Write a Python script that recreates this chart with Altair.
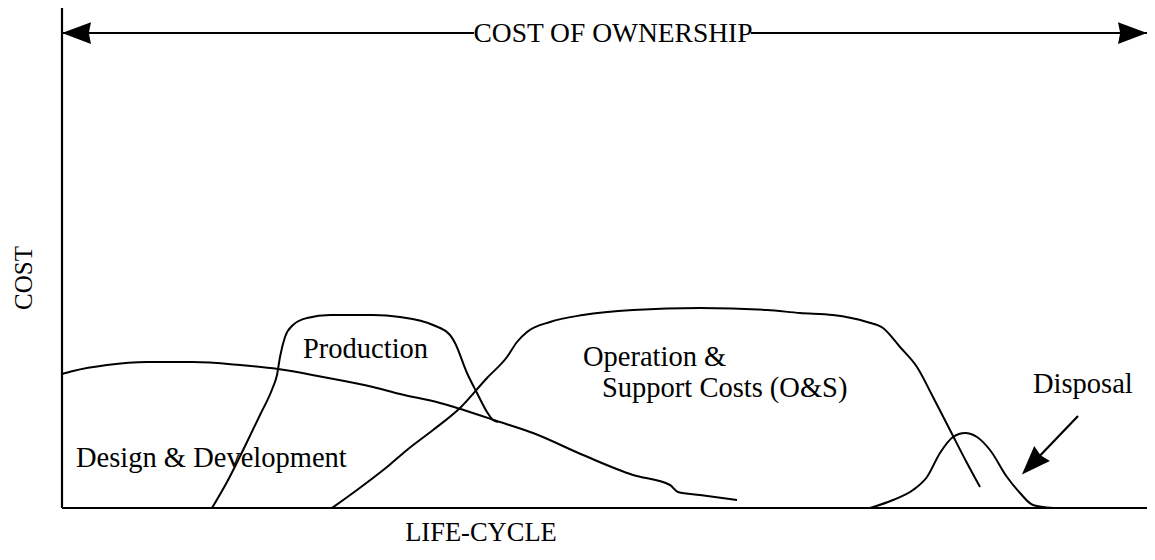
import altair as alt
import pandas as pd

# Values (x: life-cycle position, y: cost; arbitrary units)
dd_x = [0, 11, 45, 85, 131, 178, 216, 261, 311, 338, 378, 395, 438, 471, 521, 571, 608, 616, 638, 675]
dd_y = [134, 137, 143, 146, 146, 143, 139, 131, 121, 114, 105, 100, 86, 75, 53, 33, 23, 16, 13, 8]

prod_x = [150, 165, 185, 198, 211, 215, 218, 223, 231, 245, 268, 311, 338, 371, 388, 393, 405, 415, 425, 431, 436]
prod_y = [0, 26, 66, 93, 121, 133, 151, 171, 183, 190, 193, 193, 191, 183, 173, 165, 135, 115, 96, 88, 86]

os_x = [270, 295, 325, 345, 371, 398, 425, 445, 455, 465, 488, 521, 571, 638, 705, 738, 771, 805, 821, 838, 855, 871, 888, 905, 918]
os_y = [0, 18, 41, 58, 78, 100, 130, 151, 166, 176, 186, 193, 198, 200, 198, 195, 193, 186, 180, 161, 141, 111, 78, 45, 21]

disp_x = [808, 831, 851, 865, 878, 891, 903, 915, 928, 945, 958, 971, 991]
disp_y = [0, 8, 18, 31, 55, 71, 75, 71, 58, 31, 15, 3, 0]

label_texts = ["Production", "Design & Development", "Operation &", "Support Costs (O&S)", "Disposal"]
label_x = [241, 14, 521, 540, 971]
label_y = [150, 41, 142, 111, 115]

title_text = "COST OF OWNERSHIP"
x_title = "LIFE-CYCLE"
y_title = "COST"

FONT = "Liberation Serif"
XMAX = 1085
XS = alt.Scale(domain=[0, XMAX], nice=False, zero=False)
YS = alt.Scale(domain=[0, 496], nice=False, zero=False)


def enc(mark_chart, **kw):
    return mark_chart.encode(
        x=alt.X("x:Q", scale=XS, axis=None),
        y=alt.Y("y:Q", scale=YS, axis=None),
        **kw,
    )


def curve(xs, ys, name):
    df = pd.DataFrame({"x": xs, "y": ys, "s": [name] * len(xs)})
    return enc(alt.Chart(df).mark_line(color="black", strokeWidth=2, interpolate="monotone"))


curves = [
    curve(dd_x, dd_y, "Design & Development"),
    curve(prod_x, prod_y, "Production"),
    curve(os_x, os_y, "O&S"),
    curve(disp_x, disp_y, "Disposal"),
]

# axes and arrow shafts
rules_df = pd.DataFrame({
    "x": [0, 0, 0, 689, 1016],
    "x2": [0, XMAX, 412, XMAX, 970],
    "y": [0, 0, 475, 475, 92],
    "y2": [502, 0, 475, 475, 44],
    "w": [2.2, 2.2, 2, 2, 2.2],
})
rules = alt.Chart(rules_df).mark_rule(color="black").encode(
    x=alt.X("x:Q", scale=XS, axis=None),
    x2="x2:Q",
    y=alt.Y("y:Q", scale=YS, axis=None),
    y2="y2:Q",
    strokeWidth=alt.StrokeWidth("w:Q", scale=None, legend=None),
)

LEFT_HEAD = "M-1,0L1,-0.75L0.85,0L1,0.75Z"
RIGHT_HEAD = "M1,0L-1,-0.75L-0.85,0L-1,0.75Z"

lh = enc(alt.Chart(pd.DataFrame({"x": [14.5], "y": [475]})).mark_point(
    shape=LEFT_HEAD, size=841, filled=True, color="black", opacity=1, strokeWidth=0))
rh = enc(alt.Chart(pd.DataFrame({"x": [XMAX - 14.5], "y": [475]})).mark_point(
    shape=RIGHT_HEAD, size=841, filled=True, color="black", opacity=1, strokeWidth=0))
dh = enc(alt.Chart(pd.DataFrame({"x": [970], "y": [44]})).mark_point(
    shape=RIGHT_HEAD, size=841, angle=134, filled=True, color="black", opacity=1, strokeWidth=0))

labels = enc(
    alt.Chart(pd.DataFrame({"x": label_x, "y": label_y, "t": label_texts})).mark_text(
        font=FONT, fontSize=28.5, align="left", baseline="alphabetic", color="black"),
    text="t:N",
)

top_title = enc(
    alt.Chart(pd.DataFrame({"x": [551], "y": [466], "t": [title_text]})).mark_text(
        font=FONT, fontSize=27.5, align="center", baseline="alphabetic", color="black"),
    text="t:N",
)

xt = enc(
    alt.Chart(pd.DataFrame({"x": [419], "y": [-33], "t": [x_title]})).mark_text(
        font=FONT, fontSize=26.5, align="center", baseline="alphabetic", color="black"),
    text="t:N",
)

yt = enc(
    alt.Chart(pd.DataFrame({"x": [-30], "y": [230], "t": [y_title]})).mark_text(
        font=FONT, fontSize=25, align="center", baseline="alphabetic", angle=270, color="black"),
    text="t:N",
)

chart = alt.layer(*curves, rules, lh, rh, dh, labels, top_title, xt, yt).properties(
    width=XMAX,
    height=496,
    autosize=alt.AutoSizeParams(type="none"),
    padding={"left": 54, "top": 4, "right": 0, "bottom": 40},
    background="white",
).configure_view(stroke=None)

chart.save("out.html", embed_options={"renderer": "svg", "actions": False})
